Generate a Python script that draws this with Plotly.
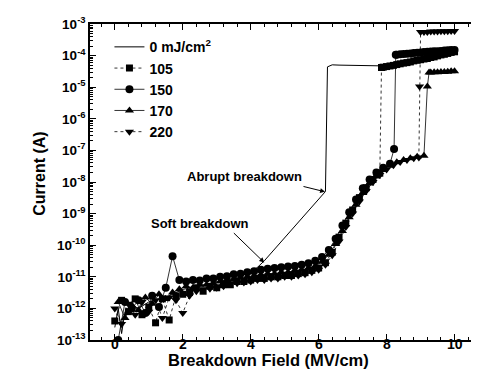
import plotly.graph_objects as go

# ---------------- data ----------------
field_even = [0.0, 0.2, 0.4, 0.6, 0.8, 1.0, 1.2, 1.4, 1.6, 1.8, 2.0, 2.2, 2.4, 2.6, 2.8,
              3.0, 3.2, 3.4, 3.6, 3.8, 4.0, 4.2, 4.4, 4.6, 4.8, 5.0, 5.2, 5.4, 5.6, 5.8,
              6.0, 6.2, 6.4, 6.6, 6.8, 7.0, 7.2, 7.4, 7.6, 7.8, 8.0, 8.2, 8.4, 8.6, 8.8]
field_odd = [0.1, 0.3, 0.5, 0.7, 0.9, 1.1, 1.3, 1.5, 1.7, 1.9, 2.1, 2.3, 2.5, 2.7, 2.9,
             3.1, 3.3, 3.5, 3.7, 3.9, 4.1, 4.3, 4.5, 4.7, 4.9, 5.1, 5.3, 5.5, 5.7, 5.9,
             6.1, 6.3, 6.5, 6.7, 6.9, 7.1, 7.3, 7.5, 7.7, 7.9, 8.1, 8.3, 8.5, 8.7, 8.9, 9.1]

# 0 mJ/cm2 (line only)
field_0 = [0.0, 0.1, 0.2, 0.3, 0.5, 0.7, 1.0, 1.3, 1.6, 2.0, 2.5, 3.0, 3.5, 4.0, 4.2, 4.4,
           4.6, 4.8, 5.0, 5.2, 5.4, 5.6, 5.8, 6.0, 6.2, 6.26, 6.4, 6.6, 7.0, 7.5, 7.85,
           8.0, 8.5, 9.0, 9.5, 10.0]
current_0 = [2.5e-13, 1.0e-12, 1.6e-13, 7.9e-13, 1.26e-12, 1.0e-12, 1.6e-12, 2.0e-12,
             2.5e-12, 4.0e-12, 5.0e-12, 7.1e-12, 8.9e-12, 1.4e-11, 2.0e-11, 3.2e-11,
             5.6e-11, 1.0e-10, 1.74e-10, 3.1e-10, 5.5e-10, 9.8e-10, 1.7e-9, 3.0e-9, 5.0e-9,
             4.4e-5, 5.1e-5, 5.0e-5, 4.9e-5, 4.7e-5, 4.5e-5, 4.7e-5, 6.0e-5, 7.9e-5,
             1.05e-4, 1.38e-4]

# 105 mJ/cm2 (squares)
field_105 = field_even[:40] + [7.85, 7.9, 8.0, 8.1, 8.2, 8.3, 8.4, 8.5, 8.6, 8.7, 8.8, 8.9,
                               9.0, 9.1, 9.2, 9.3, 9.4, 9.5, 9.6, 9.7, 9.8, 9.9, 10.0]
current_105 = [4.0e-13, 1.8e-12, 7.9e-13, 2.0e-12, 6.3e-13, 1.1e-12, 3.5e-13, 2.0e-12,
               4.3e-13, 2.5e-12, 2.8e-12, 3.2e-12, 4.5e-12, 3.5e-12, 5.0e-12, 4.5e-12,
               5.6e-12, 5.6e-12, 7.1e-12, 7.1e-12, 7.9e-12, 8.9e-12, 8.9e-12, 1.0e-11,
               1.0e-11, 1.1e-11, 1.1e-11, 1.26e-11, 1.35e-11, 1.6e-11, 1.9e-11, 2.8e-11,
               6.0e-11, 1.8e-10, 5.0e-10, 1.3e-9, 3.2e-9, 6.6e-9, 1.2e-8, 1.9e-8,
               4.2e-5, 4.3e-5, 4.5e-5, 4.7e-5, 4.9e-5, 5.2e-5, 5.5e-5, 5.8e-5, 6.0e-5,
               6.3e-5, 6.8e-5, 7.1e-5, 7.4e-5, 7.8e-5, 8.1e-5, 8.7e-5, 9.1e-5, 9.8e-5,
               1.05e-4, 1.1e-4, 1.17e-4, 1.26e-4, 1.32e-4]

# 150 mJ/cm2 (circles)
field_150 = field_odd[:41] + [8.22, 8.27, 8.3, 8.4, 8.5, 8.6, 8.7, 8.8, 8.9, 9.0, 9.1, 9.2,
                              9.3, 9.4, 9.5, 9.6, 9.7, 9.8, 9.9, 10.0]
current_150 = [1.0e-13, 1.6e-12, 1.0e-12, 1.8e-12, 7.1e-13, 2.5e-12, 1.1e-12, 4.5e-12,
               4.5e-11, 7.9e-12, 7.1e-12, 7.9e-12, 7.6e-12, 8.9e-12, 8.9e-12, 1.0e-11,
               1.05e-11, 1.2e-11, 1.26e-11, 1.4e-11, 1.5e-11, 1.66e-11, 1.8e-11, 1.9e-11,
               2.0e-11, 2.1e-11, 2.2e-11, 2.4e-11, 2.7e-11, 3.2e-11, 4.2e-11, 7.1e-11,
               1.6e-10, 4.2e-10, 1.1e-9, 2.8e-9, 6.3e-9, 1.2e-8, 2.0e-8, 2.8e-8, 3.8e-8,
               1.1e-7, 1.07e-4, 1.07e-4, 1.1e-4, 1.12e-4, 1.15e-4, 1.17e-4, 1.2e-4,
               1.23e-4, 1.26e-4, 1.29e-4, 1.32e-4, 1.35e-4, 1.38e-4, 1.38e-4, 1.41e-4,
               1.45e-4, 1.48e-4, 1.51e-4, 1.51e-4]

# 170 mJ/cm2 (up triangles)
field_170 = field_odd + [9.2, 9.25, 9.3, 9.4, 9.5, 9.6, 9.7, 9.8, 9.9, 10.0]
current_170 = [1.6e-12, 5.0e-13, 1.26e-12, 8.9e-13, 2.2e-12, 1.4e-12, 2.8e-12, 2.0e-12,
               3.2e-12, 4.0e-12, 5.0e-12, 4.5e-12, 5.6e-12, 5.6e-12, 6.3e-12, 7.1e-12,
               7.9e-12, 8.3e-12, 9.5e-12, 1.0e-11, 1.07e-11, 1.17e-11, 1.26e-11, 1.26e-11,
               1.4e-11, 1.4e-11, 1.6e-11, 1.66e-11, 1.9e-11, 2.2e-11, 3.0e-11, 5.0e-11,
               1.1e-10, 2.8e-10, 7.6e-10, 1.9e-9, 4.5e-9, 8.9e-9, 1.5e-8, 2.4e-8, 3.3e-8,
               4.2e-8, 5.0e-8, 5.6e-8, 6.3e-8, 6.8e-8,
               1.05e-5, 2.9e-5, 2.9e-5, 2.95e-5, 2.95e-5, 3.0e-5, 3.0e-5, 3.1e-5, 3.2e-5,
               3.2e-5]

# 220 mJ/cm2 (down triangles)
field_220 = field_even + [8.95, 8.97, 9.0, 9.1, 9.2, 9.3, 9.4, 9.5, 9.6, 9.7, 9.8, 9.9, 10.0]
current_220 = [1.0e-12, 3.2e-13, 1.4e-12, 6.3e-13, 1.6e-12, 7.9e-13, 1.8e-12, 5.0e-13,
               2.2e-12, 1.8e-12, 7.1e-13, 2.5e-12, 3.5e-12, 4.0e-12, 4.2e-12, 4.5e-12,
               5.0e-12, 6.0e-12, 6.3e-12, 6.6e-12, 7.1e-12, 7.9e-12, 7.9e-12, 8.9e-12,
               8.9e-12, 1.0e-11, 1.0e-11, 1.1e-11, 1.2e-11, 1.4e-11, 1.66e-11, 2.4e-11,
               4.8e-11, 1.3e-10, 3.8e-10, 1.0e-9, 2.4e-9, 5.2e-9, 1.0e-8, 1.66e-8, 2.5e-8,
               3.4e-8, 4.3e-8, 5.0e-8, 5.6e-8,
               6.0e-8, 1.05e-5, 5.6e-4, 5.6e-4, 5.6e-4, 5.75e-4, 5.75e-4, 5.75e-4, 5.9e-4,
               5.9e-4, 5.9e-4, 6.0e-4, 6.0e-4]

y_tick_vals = [1e-13, 1e-12, 1e-11, 1e-10, 1e-9, 1e-8, 1e-7, 1e-6, 1e-5, 1e-4, 1e-3]
y_tick_text = ["10<sup>-13</sup>", "10<sup>-12</sup>", "10<sup>-11</sup>", "10<sup>-10</sup>",
               "10<sup>-9</sup>", "10<sup>-8</sup>", "10<sup>-7</sup>", "10<sup>-6</sup>",
               "10<sup>-5</sup>", "10<sup>-4</sup>", "10<sup>-3</sup>"]
x_tick_vals = [0, 2, 4, 6, 8, 10]
x_tick_text = ["0", "2", "4", "6", "8", "10"]

# ---------------- figure ----------------
FONT = "Liberation Sans, Arial, sans-serif"
fig = go.Figure()

fig.add_trace(go.Scatter(x=field_0, y=current_0, mode="lines", name="0 mJ/cm<sup>2</sup>",
                         line=dict(color="black", width=1)))
fig.add_trace(go.Scatter(x=field_105, y=current_105, mode="lines+markers", name="105",
                         line=dict(color="black", width=0.8, dash="dot"),
                         marker=dict(symbol="square", size=7, color="black")))
fig.add_trace(go.Scatter(x=field_150, y=current_150, mode="lines+markers", name="150",
                         line=dict(color="black", width=0.8),
                         marker=dict(symbol="circle", size=8, color="black")))
fig.add_trace(go.Scatter(x=field_170, y=current_170, mode="lines+markers", name="170",
                         line=dict(color="black", width=0.8),
                         marker=dict(symbol="triangle-up", size=8, color="black")))
fig.add_trace(go.Scatter(x=field_220, y=current_220, mode="lines+markers", name="220",
                         line=dict(color="black", width=0.8, dash="dot"),
                         marker=dict(symbol="triangle-down", size=8, color="black")))

fig.update_layout(
    width=479, height=385,
    margin=dict(l=82, r=6, t=14, b=53),
    paper_bgcolor="white", plot_bgcolor="white",
    font=dict(family=FONT, color="black", size=14, weight="bold"),
    showlegend=True,
    legend=dict(x=0.05, y=0.977, xanchor="left", yanchor="top",
                font=dict(family=FONT, size=14, color="black", weight="bold"),
                bgcolor="rgba(0,0,0,0)", tracegroupgap=0),
    xaxis=dict(range=[-0.73, 10.72], tickvals=x_tick_vals, ticks="inside", ticklen=6,
               tickwidth=1.2, tickcolor="black", showline=True, linecolor="black",
               linewidth=1.5, mirror="ticks", showgrid=False, zeroline=False,
               showticklabels=False,
               minor=dict(dtick=0.4, tick0=0, ticks="inside", ticklen=3, tickcolor="black",
                          showgrid=False)),
    yaxis=dict(type="log", range=[-13, -3], tickvals=y_tick_vals, ticktext=y_tick_text,
               ticks="inside", ticklen=6, tickwidth=1.2, tickcolor="black",
               showline=True, linecolor="black", linewidth=1.5, mirror="ticks",
               showgrid=False, zeroline=False,
               tickfont=dict(family=FONT, size=13.5, weight="bold"),
               minor=dict(dtick="D1", ticks="inside", ticklen=3, tickcolor="black",
                          showgrid=False)),
)

# x tick labels placed close to the axis, as in the original
for v, t in zip(x_tick_vals, x_tick_text):
    fig.add_annotation(x=v, y=-0.044, xref="x", yref="paper", text=t, showarrow=False,
                       font=dict(family=FONT, size=14, color="black", weight="bold"))

# axis titles
fig.add_annotation(x=0.46, y=-0.099, xref="paper", yref="paper",
                   text="Breakdown Field (MV/cm)", showarrow=False,
                   font=dict(family=FONT, size=16.5, color="black", weight="bold"))
fig.add_annotation(x=-0.159, y=0.525, xref="paper", yref="paper", text="Current (A)",
                   textangle=-90, showarrow=False,
                   font=dict(family=FONT, size=16, color="black", weight="bold"))

# arrows and labels
fig.add_annotation(x=6.19, y=-8.31, ax=5.51, ay=-8.13, xref="x", yref="y", axref="x",
                   ayref="y", text="", showarrow=True, arrowhead=2, arrowsize=1,
                   arrowwidth=1, arrowcolor="black")
fig.add_annotation(x=4.40, y=-10.55, ax=3.46, ay=-9.57, xref="x", yref="y", axref="x",
                   ayref="y", text="", showarrow=True, arrowhead=2, arrowsize=1,
                   arrowwidth=1, arrowcolor="black")
fig.add_annotation(x=3.81, y=-7.81, xref="x", yref="y", text="Abrupt breakdown",
                   showarrow=False, font=dict(family=FONT, size=13, color="black",
                                              weight="bold"))
fig.add_annotation(x=2.52, y=-9.32, xref="x", yref="y", text="Soft breakdown",
                   showarrow=False, font=dict(family=FONT, size=13, color="black",
                                              weight="bold"))

fig.write_html("out.html")
